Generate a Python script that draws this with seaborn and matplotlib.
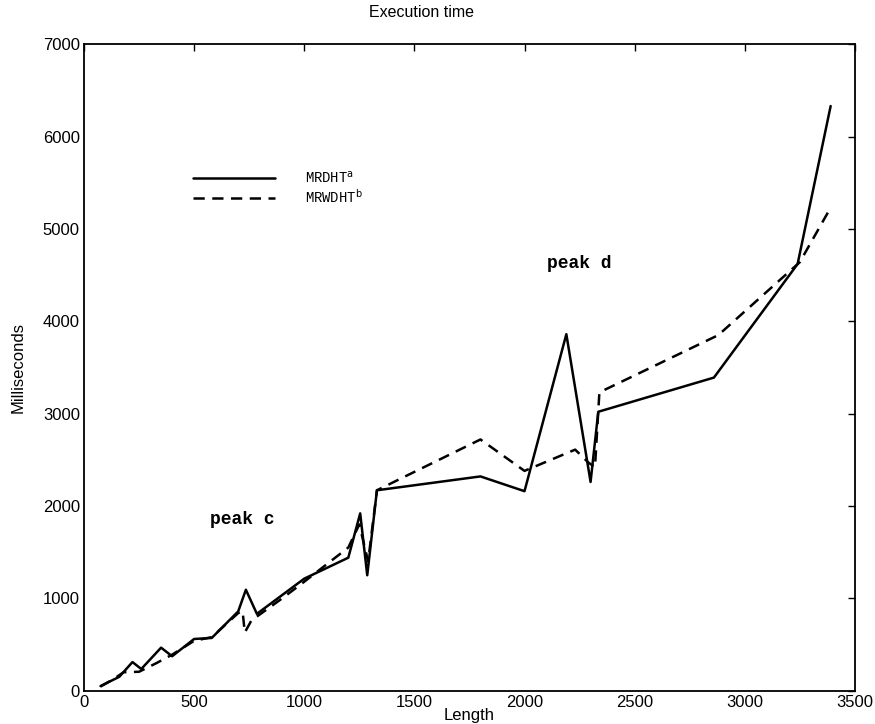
import matplotlib
matplotlib.use("Agg")
import matplotlib.pyplot as plt
import seaborn as sns
import pandas as pd

# Data
mrdht_len = [75, 130, 160, 220, 260, 350, 400, 500, 580, 700, 735, 785, 1000,
             1200, 1254, 1286, 1330, 1800, 2000, 2190, 2300, 2335, 2860, 3240, 3390]
mrdht_ms = [50, 115, 150, 310, 235, 466, 373, 560, 571, 858, 1093, 832, 1213,
            1440, 1920, 1250, 2170, 2320, 2160, 3860, 2260, 3020, 3390, 4620, 6330]

mrwdht_len = [75, 130, 180, 250, 330, 400, 500, 580, 700, 720, 730, 760, 900,
              1000, 1200, 1250, 1290, 1330, 1800, 2000, 2230, 2290, 2320, 2340,
              2880, 3250, 3390]
mrwdht_ms = [45, 120, 200, 205, 300, 390, 540, 580, 840, 860, 630, 760, 1000,
             1180, 1550, 1800, 1400, 2170, 2720, 2380, 2610, 2470, 2420, 3230,
             3850, 4640, 5230]

x_ticks = [0, 500, 1000, 1500, 2000, 2500, 3000, 3500]
y_ticks = [0, 1000, 2000, 3000, 4000, 5000, 6000, 7000]

sns.set_style("white")
plt.rcParams['font.family'] = ['Liberation Sans', 'DejaVu Sans']
plt.rcParams['text.color'] = 'black'
plt.rcParams['axes.labelcolor'] = 'black'
plt.rcParams['xtick.color'] = 'black'
plt.rcParams['ytick.color'] = 'black'

fig = plt.figure(figsize=(8.75, 7.24), dpi=100)
ax = fig.add_axes([0.096, 0.046, 0.881, 0.893])

df1 = pd.DataFrame({"Length": mrdht_len, "Milliseconds": mrdht_ms})
df2 = pd.DataFrame({"Length": mrwdht_len, "Milliseconds": mrwdht_ms})

sns.lineplot(data=df1, x="Length", y="Milliseconds", ax=ax, color="black",
             linewidth=1.8, estimator=None, sort=False, label="MRDHT$^{\\mathrm{a}}$")
sns.lineplot(data=df2, x="Length", y="Milliseconds", ax=ax, color="black",
             linewidth=1.8, estimator=None, sort=False, label="MRWDHT$^{\\mathrm{b}}$")
ax.lines[1].set_dashes((4.5, 3))

ax.set_xlim(0, 3500)
ax.set_ylim(0, 7000)
ax.set_xticks(x_ticks)
ax.set_yticks(y_ticks)
ax.tick_params(direction="in", top=True, right=True, length=5, width=1,
               labelsize=12, pad=3, colors="black")
for s in ax.spines.values():
    s.set_color("black")
    s.set_linewidth(1.3)

ax.set_xlabel("Length", fontsize=12, labelpad=-1)
ax.set_ylabel("Milliseconds", fontsize=12, labelpad=12)
fig.text(0.482, 0.983, "Execution time", fontsize=11.5, ha="center", va="center")

leg = ax.legend(loc="upper left", bbox_to_anchor=(0.125, 0.825), frameon=False,
                handlelength=5.9, handletextpad=2.2, labelspacing=0.12,
                prop={"family": "Liberation Mono", "size": 10})

ax.text(720, 1850, "peak c", family="Liberation Mono", fontsize=13,
        fontweight="bold", ha="center", va="center")
ax.text(2250, 4620, "peak d", family="Liberation Mono", fontsize=13,
        fontweight="bold", ha="center", va="center")

fig.savefig("out.png", dpi=100)
